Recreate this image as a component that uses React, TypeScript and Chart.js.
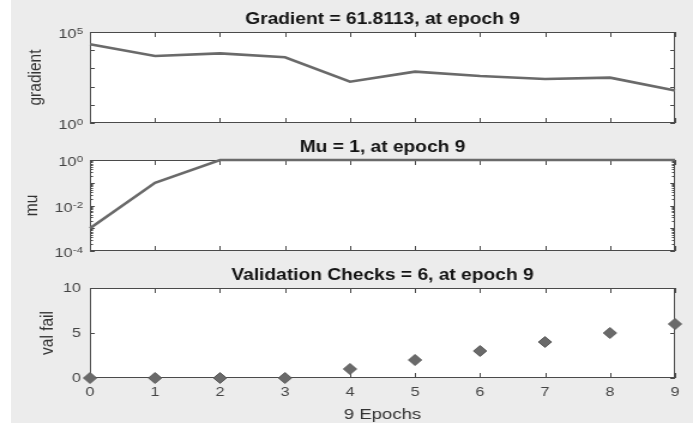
import React, { useEffect, useRef } from "react";
import { Chart, registerables } from "chart.js";

Chart.register(...registerables);

// ---------------- data ----------------
const epochs = ["0", "1", "2", "3", "4", "5", "6", "7", "8", "9"];
const gradientValues = [21000, 4800, 6700, 4100, 186, 660, 380, 260, 310, 61.8113];
const muValues = [0.001, 0.1, 1, 1, 1, 1, 1, 1, 1, 1];
const valFailValues = [0, 0, 0, 0, 1, 2, 3, 4, 5, 6];

const logTickBase = "10";
const gradientTickValues = [1, 1e5];
const gradientTickExponents = ["0", "5"];
const muTickValues = [1e-4, 1e-2, 1];
const muTickExponents = ["-4", "-2", "0"];
const valTickValues = [0, 5, 10];
const valTickLabels = ["0", "5", "10"];

const panelTitles = [
  "Gradient = 61.8113, at epoch 9",
  "Mu = 1, at epoch 9",
  "Validation Checks = 6, at epoch 9",
];
const yAxisTitles = ["gradient", "mu", "val fail"];
const xAxisTitle = "9 Epochs";

// ---------------- layout ----------------
const PAGE_W = 693;
const CW = 578; // internal canvas width, stretched horizontally to PAGE_W
const S = PAGE_W / CW;
const PLOT_LEFT = 90 / S;
const PLOT_RIGHT_PAD = CW - 675 / S;
const FONT = "'Liberation Sans', Arial, Helvetica, sans-serif";
const LINE_COLOR = "#6a6a6a";
const AXIS_COLOR = "#4a4a4a";
const TICK_COLOR = "#444444";
const TICK_SIZE = 13.5;
const EXP_SIZE = 9.5;
const Y_TITLE_SIZE = 15.5;
const yTitleHalf = (Y_TITLE_SIZE * 1.2) / 2;

const boxPlugin = {
  id: "matlabBox",
  beforeDraw(chart: any) {
    const { ctx, chartArea: a } = chart;
    ctx.save();
    ctx.fillStyle = "#ffffff";
    ctx.fillRect(a.left, a.top, a.right - a.left, a.bottom - a.top);
    ctx.restore();
  },
  beforeDatasetsDraw(chart: any) {
    const { ctx, chartArea: a, scales } = chart;
    const xs = scales.x;
    const ys = scales.y;
    const minor = chart.options.plugins.matlabBox?.minor;
    ctx.save();
    ctx.strokeStyle = AXIS_COLOR;
    ctx.lineWidth = 1;
    ctx.beginPath();
    const n = chart.data.labels.length;
    for (let i = 0; i < n; i++) {
      const px = Math.round(xs.getPixelForValue(i)) + 0.5;
      ctx.moveTo(px, a.bottom);
      ctx.lineTo(px, a.bottom - 5);
      ctx.moveTo(px, a.top);
      ctx.lineTo(px, a.top + 5);
    }
    const yTick = (v: number, len: number) => {
      const py = Math.round(ys.getPixelForValue(v)) + 0.5;
      ctx.moveTo(a.left, py);
      ctx.lineTo(a.left + len, py);
      ctx.moveTo(a.right, py);
      ctx.lineTo(a.right - len, py);
    };
    if (ys.type === "logarithmic") {
      const e0 = Math.round(Math.log10(ys.min));
      const e1 = Math.round(Math.log10(ys.max));
      for (let e = e0; e <= e1; e++) {
        const base = Math.pow(10, e);
        yTick(base, 4);
        if (minor && e < e1) {
          for (let k = 2; k <= 9; k++) yTick(k * base, 2.5);
        }
      }
    } else {
      ys.ticks.forEach((t: any) => yTick(t.value, 4));
    }
    ctx.stroke();
    ctx.strokeRect(
      Math.round(a.left) + 0.5,
      Math.round(a.top) + 0.5,
      Math.round(a.right - a.left) - 1,
      Math.round(a.bottom - a.top) - 1
    );
    ctx.restore();
  },
  afterDraw(chart: any) {
    const exps: string[] | undefined = chart.options.plugins.matlabBox?.exponents;
    if (!exps) return;
    const { ctx, chartArea: a, scales } = chart;
    const ys = scales.y;
    const xr = a.left - 7 / S;
    ctx.save();
    ctx.fillStyle = TICK_COLOR;
    ctx.textAlign = "right";
    ctx.textBaseline = "alphabetic";
    ys.ticks.forEach((t: any, i: number) => {
      const py = ys.getPixelForValue(t.value);
      const ex = exps[i];
      ctx.font = `${EXP_SIZE}px ${FONT}`;
      const ew = ctx.measureText(ex).width;
      ctx.fillText(ex, xr, py + 2);
      ctx.font = `${TICK_SIZE}px ${FONT}`;
      ctx.fillText(logTickBase, xr - ew - 0.3, py + 6.3);
    });
    ctx.restore();
  },
};

type PanelDef = {
  top: number;
  height: number;
  bottomPad: number;
  title: string;
  yTitle: string;
  yTitleCenter: number;
  yType: "logarithmic" | "linear";
  yMin: number;
  yMax: number;
  tickValues: number[];
  tickLabels: string[] | null;
  exponents: string[] | null;
  values: number[];
  markers: boolean;
  showX: boolean;
  minor: boolean;
};

const panels: PanelDef[] = [
  {
    top: 0,
    height: 138,
    bottomPad: 15,
    title: panelTitles[0],
    yTitle: yAxisTitles[0],
    yTitleCenter: 35.5,
    yType: "logarithmic",
    yMin: 1,
    yMax: 1e5,
    tickValues: gradientTickValues,
    tickLabels: null,
    exponents: gradientTickExponents,
    values: gradientValues,
    markers: false,
    showX: false,
    minor: false,
  },
  {
    top: 128,
    height: 138,
    bottomPad: 15,
    title: panelTitles[1],
    yTitle: yAxisTitles[1],
    yTitleCenter: 31.7,
    yType: "logarithmic",
    yMin: 1e-4,
    yMax: 1,
    tickValues: muTickValues,
    tickLabels: null,
    exponents: muTickExponents,
    values: muValues,
    markers: false,
    showX: false,
    minor: true,
  },
  {
    top: 256,
    height: 172,
    bottomPad: 0,
    title: panelTitles[2],
    yTitle: yAxisTitles[2],
    yTitleCenter: 47.7,
    yType: "linear",
    yMin: 0,
    yMax: 10,
    tickValues: valTickValues,
    tickLabels: valTickLabels,
    exponents: null,
    values: valFailValues,
    markers: true,
    showX: true,
    minor: false,
  },
];

function Panel({ def }: { def: PanelDef }) {
  const ref = useRef<HTMLCanvasElement>(null);
  useEffect(() => {
    const canvas = ref.current!;
    const dataset: any = def.markers
      ? {
          data: def.values,
          showLine: false,
          pointStyle: "rectRot",
          pointRadius: 5.5,
          backgroundColor: LINE_COLOR,
          borderColor: "#5c5c5c",
          borderWidth: 1,
          clip: false,
        }
      : {
          data: def.values,
          borderColor: LINE_COLOR,
          borderWidth: 2.6,
          pointRadius: 0,
          tension: 0,
          fill: false,
          clip: false,
        };
    const chart = new Chart(canvas, {
      type: "line",
      data: { labels: epochs, datasets: [dataset] },
      plugins: [boxPlugin],
      options: {
        responsive: false,
        animation: false,
        devicePixelRatio: 1,
        events: [],
        layout: {
          padding: {
            left: 0,
            right: PLOT_RIGHT_PAD,
            top: 0,
            bottom: def.bottomPad,
          },
        },
        plugins: {
          legend: { display: false },
          tooltip: { enabled: false },
          title: {
            display: true,
            text: def.title,
            fullSize: false,
            color: "#141414",
            font: { family: FONT, size: 16, weight: "bold", lineHeight: 1.2 },
            padding: { top: 10.4, bottom: 2.4 },
          },
          matlabBox: { minor: def.minor, exponents: def.exponents },
        } as any,
        scales: {
          x: {
            type: "category",
            display: def.showX,
            offset: false,
            grid: { display: false, drawTicks: false },
            border: { display: false },
            ticks: {
              color: TICK_COLOR,
              padding: 6.3,
              maxRotation: 0,
              autoSkip: false,
              font: { family: FONT, size: TICK_SIZE, lineHeight: 1.2 },
            },
            title: {
              display: def.showX,
              text: xAxisTitle,
              color: "#333",
              font: { family: FONT, size: 15.5, lineHeight: 1.2 },
              padding: { top: 0, bottom: 3.9 },
            },
            afterFit: (s: any) => {
              if (def.showX) s.height = 50;
            },
          },
          y: {
            type: def.yType,
            min: def.yMin,
            max: def.yMax,
            grid: { display: false, drawTicks: false },
            border: { display: false },
            ticks: {
              display: def.tickLabels !== null,
              color: TICK_COLOR,
              padding: 7.5,
              font: { family: FONT, size: TICK_SIZE },
              callback: (_v: any, i: number) => (def.tickLabels ? def.tickLabels[i] : ""),
            },
            afterBuildTicks: (s: any) => {
              s.ticks = def.tickValues.map((v) => ({ value: v }));
            },
            afterFit: (s: any) => {
              s.width = PLOT_LEFT;
            },
            title: {
              display: true,
              text: def.yTitle,
              color: "#333",
              font: { family: FONT, size: Y_TITLE_SIZE, lineHeight: 1.2 },
              padding: { top: def.yTitleCenter / S - yTitleHalf, bottom: 0 },
            },
          } as any,
        },
      } as any,
    });
    return () => chart.destroy();
  }, []);
  return (
    <canvas
      ref={ref}
      width={CW}
      height={def.height}
      style={{
        position: "absolute",
        left: 0,
        top: def.top,
        width: PAGE_W + "px",
        height: def.height + "px",
      }}
    />
  );
}

export default function App() {
  return (
    <div
      style={{
        position: "absolute",
        left: 0,
        top: 0,
        width: PAGE_W,
        height: 428,
        background: "#ffffff",
        overflow: "hidden",
      }}
    >
      <div
        style={{
          position: "absolute",
          left: 11,
          top: 0,
          width: PAGE_W - 11,
          height: 423,
          background: "#ececec",
        }}
      />
      {panels.map((p, i) => (
        <Panel key={i} def={p} />
      ))}
    </div>
  );
}
